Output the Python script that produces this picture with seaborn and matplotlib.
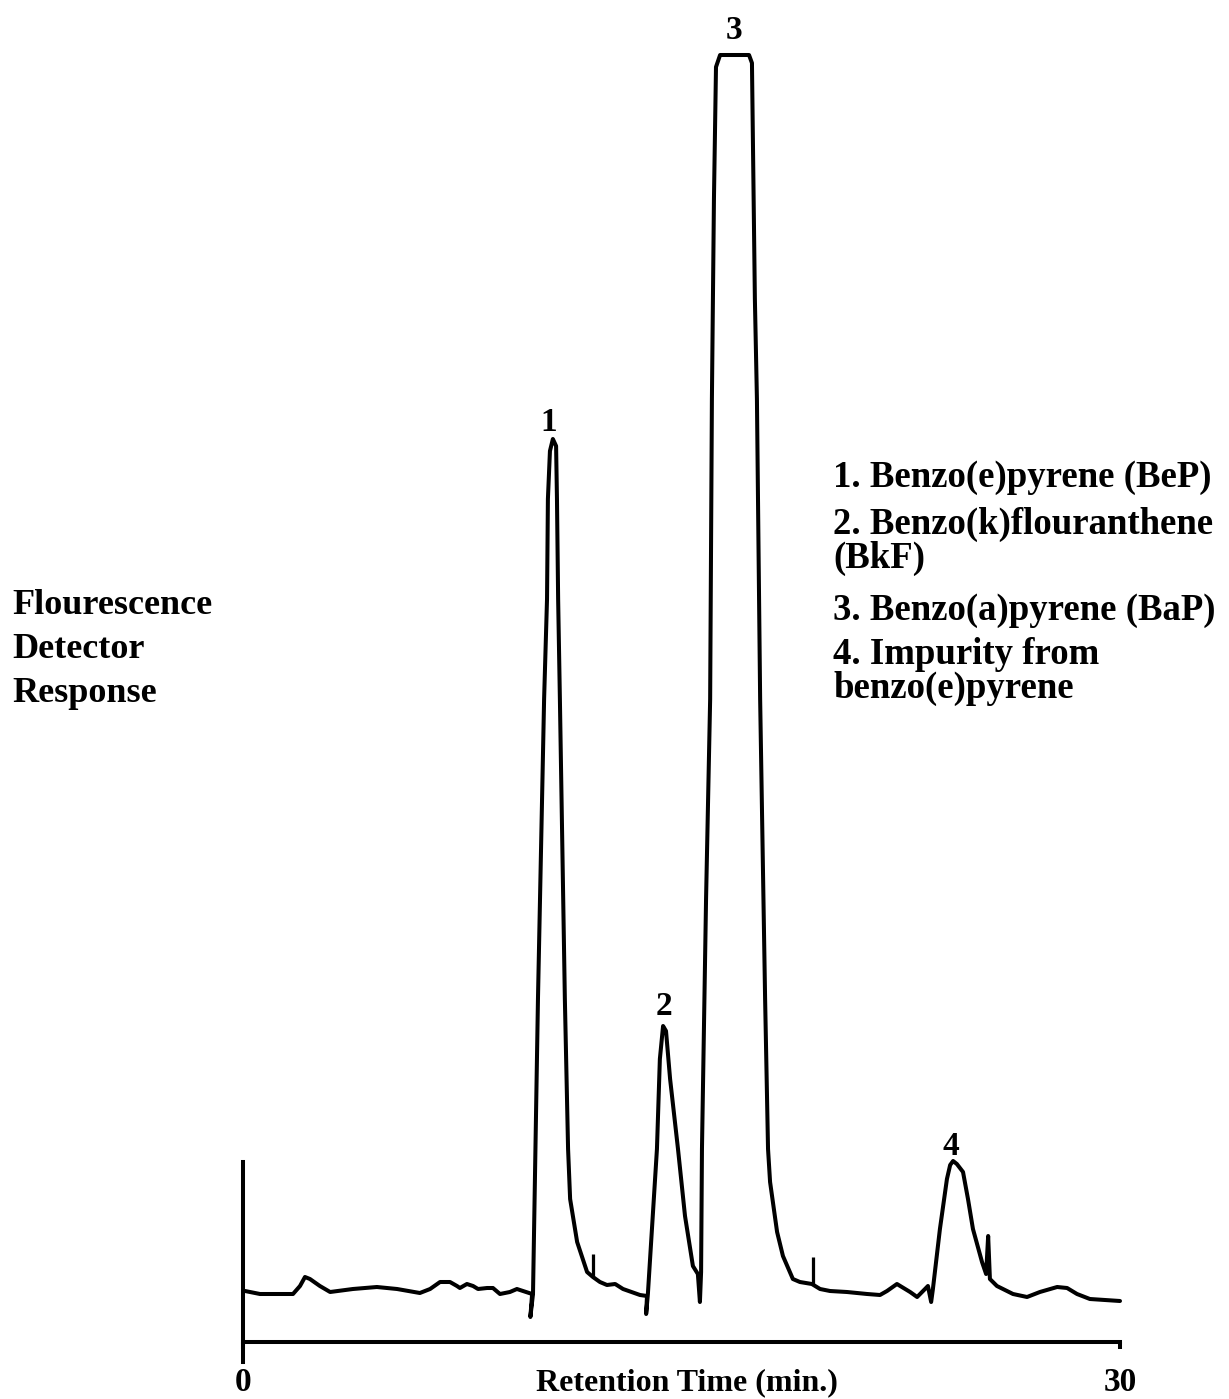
import matplotlib
matplotlib.use("Agg")
import matplotlib.pyplot as plt
import pandas as pd
import seaborn as sns

# ---- data ----
time_min = [0.07, 0.58, 1.71, 1.95, 2.12, 2.29, 2.63, 2.98, 3.76, 4.58,
            5.27, 6.05, 6.40, 6.74, 7.08, 7.32, 7.42, 7.66, 7.87, 8.04,
            8.35, 8.55, 8.79, 9.13, 9.37, 9.89, 9.83, 9.92, 10.09, 10.30,
            10.40, 10.43, 10.50, 10.60, 10.71, 10.74, 10.78, 10.84, 11.01, 11.12,
            11.19, 11.43, 11.77, 11.97, 12.21, 12.45, 12.73, 13.00, 13.58, 13.82,
            13.79, 13.85, 14.16, 14.26, 14.37, 14.47, 14.61, 14.88, 15.12, 15.39,
            15.56, 15.63, 15.67, 15.70, 15.84, 15.98, 16.04, 16.11, 16.18, 16.32,
            17.31, 17.41, 17.51, 17.58, 17.69, 17.86, 17.96, 18.03, 18.27, 18.47,
            18.81, 19.05, 19.46, 19.74, 20.08, 20.66, 21.35, 21.79, 22.03, 22.37,
            22.82, 23.06, 23.33, 23.43, 23.54, 23.60, 23.84, 24.08, 24.19, 24.29,
            24.42, 24.63, 24.80, 24.97, 25.28, 25.42, 25.49, 25.55, 25.79, 26.34,
            26.82, 27.26, 27.85, 28.19, 28.53, 28.97, 30.00]
response = [5.1, 4.8, 4.8, 5.6, 6.5, 6.3, 5.6, 5.0, 5.3, 5.5,
            5.3, 4.9, 5.3, 6.0, 6.0, 5.6, 5.4, 5.8, 5.6, 5.3,
            5.4, 5.4, 4.8, 5.0, 5.3, 4.8, 2.5, 4.8, 34.3, 64.3,
            74.3, 84.3, 89.1, 90.3, 89.6, 84.3, 74.3, 64.3, 34.3, 19.3,
            14.3, 10.0, 7.0, 6.5, 6.0, 5.7, 5.8, 5.3, 4.7, 4.6,
            2.8, 4.8, 19.3, 28.3, 31.6, 31.1, 26.3, 19.3, 12.6, 7.6,
            6.8, 4.0, 7.0, 19.3, 44.3, 64.3, 94.3, 114.3, 127.5, 128.7,
            128.7, 127.9, 104.3, 94.3, 64.3, 34.3, 19.3, 16.0, 11.0, 8.6,
            6.3, 6.0, 5.8, 5.3, 5.1, 5.0, 4.8, 4.7, 5.1, 5.8,
            5.0, 4.5, 5.3, 5.6, 4.0, 5.3, 11.3, 16.3, 17.7, 18.1,
            17.8, 17.0, 14.3, 11.3, 8.0, 6.8, 10.6, 6.3, 5.6, 4.8,
            4.5, 5.0, 5.5, 5.4, 4.8, 4.3, 4.1]

marker_times = [11.97, 19.50]
marker_base = [6.5, 5.8]
marker_top = [8.8, 8.5]

peak_ids = ["1", "2", "3", "4"]
peak_times = [10.45, 14.40, 16.78, 24.22]
peak_heights = [90.3, 31.6, 128.7, 18.1]

legend_items = ["1. Benzo(e)pyrene (BeP)",
                "2. Benzo(k)flouranthene\n(BkF)",
                "3. Benzo(a)pyrene (BaP)",
                "4. Impurity from\nbenzo(e)pyrene"]

x_ticks = [0, 30]
x_tick_labels = ["0", "30"]
x_label = "Retention Time (min.)"
y_label = "Flourescence\nDetector\nResponse"

# ---- style ----
sns.set_theme(style="white")
plt.rcParams["font.family"] = ["Liberation Serif", "DejaVu Serif"]
plt.rcParams["font.weight"] = "bold"
plt.rcParams["text.color"] = "black"
plt.rcParams["axes.labelcolor"] = "black"
plt.rcParams["xtick.color"] = "black"
plt.rcParams["xtick.labelcolor"] = "black"

W, H = 1229, 1399
fig = plt.figure(figsize=(W / 100, H / 100), dpi=100)
fig.patch.set_facecolor("white")
ax = fig.add_axes([0, 0, 1, 1])
ax.set_facecolor("white")

x0_px, x30_px = 243, 1120
ppm = (x30_px - x0_px) / 30.0
y0_px, ppu = 1342, 10.0
ax.set_xlim(-x0_px / ppm, (W - x0_px) / ppm)
ax.set_ylim(-(H - y0_px) / ppu, y0_px / ppu)

LW = 2.9
df = pd.DataFrame({"time": time_min, "response": response})
sns.lineplot(data=df, x="time", y="response", sort=False, estimator=None,
             color="black", linewidth=LW, ax=ax,
             solid_joinstyle="round", solid_capstyle="round")
ax.vlines(marker_times, marker_base, marker_top, color="black", linewidth=LW * 0.8)

offsets = [6, 8, 11.5, 4.5]
for pid, t, h, off in zip(peak_ids, peak_times, peak_heights, offsets):
    ax.annotate(pid, xy=(t, h), xytext=(0, off), textcoords="offset points",
                ha="center", va="baseline", fontsize=24, fontweight="bold",
                color="black")

# axes lines
for s in ["top", "right"]:
    ax.spines[s].set_visible(False)
ax.spines["bottom"].set_position(("data", 0))
ax.spines["bottom"].set_bounds(0, 30)
ax.spines["left"].set_position(("data", 0))
ax.spines["left"].set_bounds(-2.0, 18.0)
for s in ["bottom", "left"]:
    ax.spines[s].set_linewidth(LW)
    ax.spines[s].set_color("black")
    ax.spines[s].set_capstyle("projecting")

ax.set_xticks(x_ticks, x_tick_labels)
ax.set_yticks([])
ax.tick_params(axis="x", bottom=True, direction="out", length=5, width=LW,
               color="black", labelcolor="black", pad=13, labelsize=24)
for lab in ax.get_xticklabels():
    lab.set_fontweight("bold")

ax.set_xlabel(x_label, fontsize=23, fontweight="bold", va="baseline", color="black")
ax.xaxis.set_label_coords(687 / W, 1 - 1390 / H)

# multi-line 'baseline' alignment anchors the last line
ax.set_ylabel(y_label, rotation=0, ha="left", va="baseline", fontsize=26,
              fontweight="bold", linespacing=1.45, multialignment="left",
              color="black")
ax.yaxis.set_label_coords(12 / W, 1 - 691 / H)

item_last_baselines = [487, 568, 620, 698]
for item, b in zip(legend_items, item_last_baselines):
    ax.text(833 / W, 1 - b / H, item, transform=ax.transAxes, fontsize=26.5,
            fontweight="bold", ha="left", va="baseline", linespacing=0.98,
            color="black")

fig.savefig("out.png", dpi=100, facecolor="white")
